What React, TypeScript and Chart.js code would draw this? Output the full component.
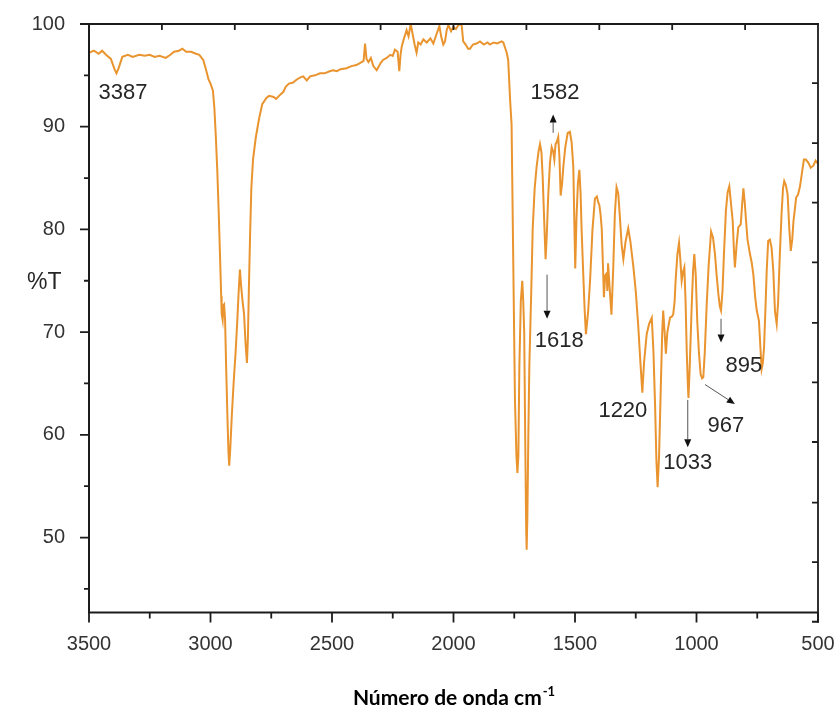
import React, { useEffect, useRef } from "react";
import { Chart, registerables } from "chart.js";

Chart.register(...registerables);

// ---- data (wavenumber in cm-1, transmittance in %T) ----
const wavenumbers = [
  3500, 3480, 3460, 3446, 3430, 3410, 3395, 3387, 3378, 3363, 3340, 3320, 3294, 3270, 3250, 3230, 3210, 3184, 3165, 3150,
  3130, 3116, 3100, 3080, 3060, 3046, 3030, 3020, 3008, 3000, 2990, 2984, 2978, 2972, 2966, 2961, 2956, 2954, 2950, 2947,
  2944, 2940, 2935, 2930, 2926, 2923, 2919, 2912, 2905, 2897, 2890, 2884, 2879, 2874, 2868, 2862, 2856, 2850, 2846, 2842,
  2837, 2832, 2825, 2814, 2800, 2787, 2770, 2759, 2740, 2730, 2718, 2700, 2690, 2677, 2660, 2645, 2630, 2618, 2604, 2590,
  2570, 2549, 2530, 2510, 2495, 2480, 2465, 2440, 2420, 2400, 2385, 2370, 2364, 2358, 2350, 2340, 2330, 2316, 2300, 2290,
  2275, 2260, 2250, 2241, 2230, 2223, 2218, 2213, 2205, 2193, 2185, 2176, 2168, 2160, 2152, 2145, 2135, 2124, 2110, 2095,
  2083, 2070, 2058, 2050, 2042, 2035, 2028, 2021, 2010, 2001, 1990, 1980, 1967, 1960, 1950, 1940, 1932, 1920, 1905, 1891,
  1875, 1860, 1850, 1835, 1820, 1802, 1795, 1781, 1775, 1767, 1761, 1754, 1747, 1741, 1737, 1733, 1729, 1723, 1717, 1713,
  1709, 1705, 1701, 1699, 1696, 1692, 1688, 1680, 1674, 1666, 1658, 1650, 1644, 1638, 1633, 1627, 1621, 1616, 1610, 1603,
  1596, 1590, 1585, 1580, 1575, 1569, 1564, 1559, 1553, 1548, 1540, 1530, 1521, 1514, 1507, 1503, 1499, 1494, 1488, 1482,
  1477, 1473, 1465, 1460, 1455, 1446, 1438, 1428, 1418, 1410, 1404, 1400, 1395, 1390, 1385, 1381, 1376, 1370, 1367, 1364,
  1358, 1350, 1343, 1336, 1329, 1322, 1315, 1308, 1301, 1292, 1281, 1272, 1260, 1250, 1240, 1232, 1223, 1216, 1205, 1195,
  1184, 1177, 1170, 1165, 1160, 1154, 1147, 1141, 1137, 1130, 1126, 1120, 1109, 1102, 1096, 1090, 1086, 1079, 1072, 1067,
  1061, 1056, 1050, 1045, 1040, 1035, 1033, 1028, 1020, 1014, 1009, 1003, 997, 990, 983, 977, 972, 966, 958, 950,
  940, 932, 924, 917, 910, 904, 899, 893, 887, 879, 872, 865, 858, 851, 846, 842, 835, 828, 818, 812,
  807, 801, 796, 790, 780, 773, 766, 759, 752, 743, 737, 732, 727, 722, 716, 711, 705, 698, 691, 684,
  677, 670, 664, 657, 650, 644, 639, 632, 625, 618, 612, 606, 601, 595, 590, 582, 574, 566, 558, 550,
  540, 530, 519, 510, 500,
];

const transmittance = [
  97.2, 97.4, 97.1, 97.4, 97.0, 96.6, 95.6, 95.2, 95.7, 96.8, 97.0, 96.8, 97.0, 96.9, 97.0, 96.8, 96.9, 96.7, 97.0, 97.3,
  97.4, 97.6, 97.3, 97.3, 97.1, 97.0, 96.5, 95.7, 94.6, 94.2, 93.5, 91.8, 89.0, 85.7, 81.5, 77.6, 73.5, 71.8, 71.2, 72.6,
  72.7, 71.2, 66.0, 61.5, 58.3, 57.0, 58.5, 62.0, 65.0, 67.9, 71.0, 74.0, 76.1, 74.5, 73.0, 71.8, 69.0, 67.0, 69.5, 74.3,
  79.5, 84.0, 86.8, 88.9, 90.8, 92.2, 92.8, 93.0, 92.9, 92.7, 93.0, 93.4, 93.9, 94.2, 94.3, 94.6, 94.8, 94.9, 94.5, 94.9,
  95.0, 95.2, 95.2, 95.4, 95.5, 95.4, 95.6, 95.7, 95.9, 96.0, 96.2, 96.4, 98.1, 96.6, 96.3, 96.7, 95.9, 95.5, 96.2, 96.5,
  96.7, 97.0, 96.9, 97.5, 97.3, 95.4, 97.0, 97.8, 98.5, 99.4, 98.8, 100.0, 99.0, 98.0, 97.2, 98.2, 98.0, 98.5, 98.2, 98.6,
  98.1, 99.0, 99.8, 98.7, 98.0, 98.3, 99.4, 99.9, 99.3, 99.7, 99.5, 99.9, 100.0, 98.3, 98.0, 97.6, 97.6, 98.0, 98.1, 98.3,
  98.0, 98.2, 98.0, 98.2, 98.1, 98.3, 98.2, 97.2, 96.5, 92.6, 90.2, 76.7, 63.3, 58.0, 56.3, 58.0, 66.6, 73.0, 75.0, 73.0,
  70.0, 60.0, 51.0, 48.8, 52.0, 60.0, 66.6, 74.0, 80.1, 84.0, 86.1, 87.6, 88.3, 87.5, 85.1, 81.0, 77.1, 79.5, 83.4, 86.5,
  88.0, 87.6, 86.8, 88.3, 88.5, 89.0, 87.0, 83.3, 84.5, 86.1, 88.0, 89.4, 89.5, 88.5, 86.1, 81.0, 76.2, 81.0, 84.5, 85.8,
  83.5, 80.1, 75.0, 72.0, 69.8, 72.0, 75.0, 80.0, 83.0, 83.2, 82.6, 82.4, 81.5, 80.1, 76.5, 73.4, 75.5, 75.7, 74.0, 76.7,
  74.5, 71.7, 76.0, 81.5, 84.1, 83.5, 81.1, 78.5, 77.1, 78.8, 80.1, 78.8, 76.4, 74.0, 70.7, 67.5, 64.1, 67.0, 69.8, 70.8,
  71.4, 68.0, 62.5, 57.5, 54.9, 58.0, 64.6, 70.0, 72.1, 69.5, 67.9, 70.0, 71.4, 71.5, 71.7, 73.0, 75.0, 77.5, 78.7, 77.2,
  75.0, 75.8, 76.3, 73.0, 68.0, 64.5, 63.6, 66.5, 72.4, 76.0, 77.6, 75.5, 71.1, 68.0, 65.9, 65.5, 65.6, 68.0, 72.7, 76.5,
  79.8, 79.2, 77.6, 75.5, 73.7, 72.5, 72.1, 74.0, 77.6, 81.8, 83.6, 84.2, 82.5, 80.8, 78.0, 76.3, 78.5, 80.2, 80.5, 82.5,
  84.0, 82.5, 80.8, 79.0, 77.6, 76.8, 75.6, 73.5, 72.1, 71.1, 68.5, 66.4, 67.0, 68.5, 72.5, 76.0, 78.9, 79.0, 78.2, 76.0,
  72.0, 70.8, 73.0, 77.6, 81.5, 84.0, 84.7, 84.3, 83.4, 80.0, 77.9, 79.0, 80.8, 82.0, 83.1, 83.4, 84.2, 85.5, 86.8, 86.8,
  86.5, 86.0, 86.2, 86.7, 86.4,
];

// axis ticks
const xTickValues = [3500, 3000, 2500, 2000, 1500, 1000, 500];
const xMinorTicks = [3250, 2750, 2250, 1750, 1250, 750];
const yTickValues = [50, 60, 70, 80, 90, 100];
const yMinorTicks = [45, 55, 65, 75, 85, 95];
const topTicks = [3200, 2900, 2600, 2300, 2000, 1700, 1400, 1100, 800];
const rightTicks = [94.25, 88.4, 82.6, 76.8, 70.9, 65.1, 59.3, 53.4, 47.6, 41.8];

// peak labels
const peakLabels = ["3387", "1582", "1618", "1220", "1033", "967", "895"];
const peakLabelX = [3360, 1582, 1565, 1303, 1036, 879, 805];
const peakLabelY = [93.25, 93.25, 69.1, 62.3, 57.3, 60.9, 66.7];

// arrows (tail -> head)
const arrowTailX = [1590, 1615, 1036, 965, 899];
const arrowTailY = [89.4, 75.6, 63.4, 64.9, 71.3];
const arrowHeadX = [1590, 1615, 1036, 842, 899];
const arrowHeadY = [91.2, 71.3, 58.8, 63.0, 69.0];

const LINE_COLOR = "#E9942F";
const AXIS_COLOR = "#1c1c1c";
const TEXT_COLOR = "#262626";
const PLOT_RIGHT = 818;

const decorPlugin = {
  id: "decor",
  afterDraw(chart: any) {
    const { ctx, chartArea, scales } = chart;
    const { left, right, top, bottom } = chartArea;
    const x = scales.x;
    const y = scales.y;
    ctx.save();

    // frame
    ctx.strokeStyle = AXIS_COLOR;
    ctx.lineCap = "butt";
    ctx.lineWidth = 2;
    ctx.beginPath();
    ctx.moveTo(left, top);
    ctx.lineTo(left, bottom + 1);
    ctx.moveTo(left - 1, bottom);
    ctx.lineTo(right, bottom);
    ctx.stroke();

    ctx.lineWidth = 1.8;
    ctx.beginPath();
    ctx.moveTo(left, top);
    ctx.lineTo(right + 1, top);
    ctx.moveTo(right, top);
    ctx.lineTo(right, y.getPixelForValue(rightTicks[rightTicks.length - 1]) + 1);
    ctx.stroke();

    // ticks
    ctx.lineWidth = 1.8;
    ctx.beginPath();
    yTickValues.forEach((v) => {
      const p = y.getPixelForValue(v);
      ctx.moveTo(left - 9, p);
      ctx.lineTo(left, p);
    });
    yMinorTicks.forEach((v) => {
      const p = y.getPixelForValue(v);
      ctx.moveTo(left - 5, p);
      ctx.lineTo(left, p);
    });
    xTickValues.forEach((v) => {
      const p = x.getPixelForValue(v);
      ctx.moveTo(p, bottom);
      ctx.lineTo(p, bottom + 10);
    });
    xMinorTicks.forEach((v) => {
      const p = x.getPixelForValue(v);
      ctx.moveTo(p, bottom);
      ctx.lineTo(p, bottom + 6);
    });
    topTicks.forEach((v) => {
      const p = x.getPixelForValue(v);
      ctx.moveTo(p, top);
      ctx.lineTo(p, top + 6);
    });
    rightTicks.forEach((v) => {
      const p = y.getPixelForValue(v);
      ctx.moveTo(right, p);
      ctx.lineTo(right - 6, p);
    });
    ctx.stroke();

    // peak labels
    ctx.fillStyle = TEXT_COLOR;
    ctx.font = '22px "Liberation Sans", Arial, sans-serif';
    ctx.textAlign = "center";
    ctx.textBaseline = "middle";
    peakLabels.forEach((t, i) => {
      ctx.fillText(t, x.getPixelForValue(peakLabelX[i]), y.getPixelForValue(peakLabelY[i]));
    });

    // arrows
    ctx.strokeStyle = "#555";
    ctx.fillStyle = "#111";
    ctx.lineWidth = 1;
    arrowTailX.forEach((_, i) => {
      const x1 = x.getPixelForValue(arrowTailX[i]);
      const y1 = y.getPixelForValue(arrowTailY[i]);
      const x2 = x.getPixelForValue(arrowHeadX[i]);
      const y2 = y.getPixelForValue(arrowHeadY[i]);
      const ang = Math.atan2(y2 - y1, x2 - x1);
      const hl = 8;
      const hw = 3.5;
      const bx = x2 - hl * Math.cos(ang);
      const by = y2 - hl * Math.sin(ang);
      ctx.beginPath();
      ctx.moveTo(x1, y1);
      ctx.lineTo(bx, by);
      ctx.stroke();
      ctx.beginPath();
      ctx.moveTo(x2, y2);
      ctx.lineTo(bx + hw * Math.sin(ang), by - hw * Math.cos(ang));
      ctx.lineTo(bx - hw * Math.sin(ang), by + hw * Math.cos(ang));
      ctx.closePath();
      ctx.fill();
    });

    // y axis title
    ctx.fillStyle = TEXT_COLOR;
    ctx.font = '23px "Liberation Sans", Arial, sans-serif';
    ctx.textAlign = "left";
    ctx.textBaseline = "middle";
    ctx.fillText("%T", 27, 283);

    // x axis title with superscript
    const main = "Número de onda cm";
    const sup = "-1";
    ctx.fillStyle = "#000";
    ctx.font = 'bold 21px Lato, "Open Sans", sans-serif';
    const wMain = ctx.measureText(main).width;
    ctx.font = 'bold 13px Lato, "Open Sans", sans-serif';
    const wSup = ctx.measureText(sup).width;
    const cx = (left + right) / 2;
    const startX = cx - (wMain + wSup) / 2;
    ctx.textBaseline = "alphabetic";
    ctx.font = 'bold 21px Lato, "Open Sans", sans-serif';
    ctx.fillText(main, startX, 705);
    ctx.font = 'bold 13px Lato, "Open Sans", sans-serif';
    ctx.fillText(sup, startX + wMain + 1, 696);

    ctx.restore();
  },
};

export default function App() {
  const canvasRef = useRef<HTMLCanvasElement | null>(null);

  useEffect(() => {
    const canvas = canvasRef.current;
    if (!canvas) return;
    const points = wavenumbers.map((w, i) => ({ x: w, y: transmittance[i] }));
    const chart = new Chart(canvas, {
      type: "line",
      data: {
        datasets: [
          {
            data: points,
            borderColor: LINE_COLOR,
            borderWidth: 2,
            pointRadius: 0,
            tension: 0,
            fill: false,
          },
        ],
      },
      options: {
        responsive: false,
        maintainAspectRatio: false,
        animation: false,
        devicePixelRatio: 1,
        layout: { padding: { left: 0, right: 838 - PLOT_RIGHT, top: 24, bottom: 0 } },
        plugins: { legend: { display: false }, tooltip: { enabled: false }, title: { display: false } },
        scales: {
          x: {
            type: "linear",
            reverse: true,
            min: 500,
            max: 3500,
            grid: { display: false },
            border: { display: false },
            afterBuildTicks: (scale: any) => {
              scale.ticks = xTickValues.map((v) => ({ value: v }));
            },
            afterFit: (scale: any) => {
              scale.height = 102.5;
              scale.paddingLeft = 0;
              scale.paddingRight = 0;
            },
            ticks: {
              padding: 12,
              color: "#333",
              maxRotation: 0,
              autoSkip: false,
              font: { family: '"Liberation Sans", Arial, sans-serif', size: 20 },
              callback: (v: any) => String(v),
            },
          },
          y: {
            type: "linear",
            min: 42.7,
            max: 100,
            grid: { display: false },
            border: { display: false },
            afterBuildTicks: (scale: any) => {
              scale.ticks = yTickValues.map((v) => ({ value: v }));
            },
            afterFit: (scale: any) => {
              scale.width = 89;
              scale.paddingTop = 0;
              scale.paddingBottom = 0;
            },
            ticks: {
              padding: 16,
              color: "#333",
              autoSkip: false,
              font: { family: '"Liberation Sans", Arial, sans-serif', size: 20 },
              callback: (v: any) => String(v),
            },
          },
        },
      },
      plugins: [decorPlugin],
    });
    return () => chart.destroy();
  }, []);

  return (
    <div style={{ position: "absolute", left: 0, top: 0, width: 838, height: 715, background: "#fff" }}>
      <canvas ref={canvasRef} width={838} height={715} style={{ display: "block", width: 838, height: 715 }} />
    </div>
  );
}
